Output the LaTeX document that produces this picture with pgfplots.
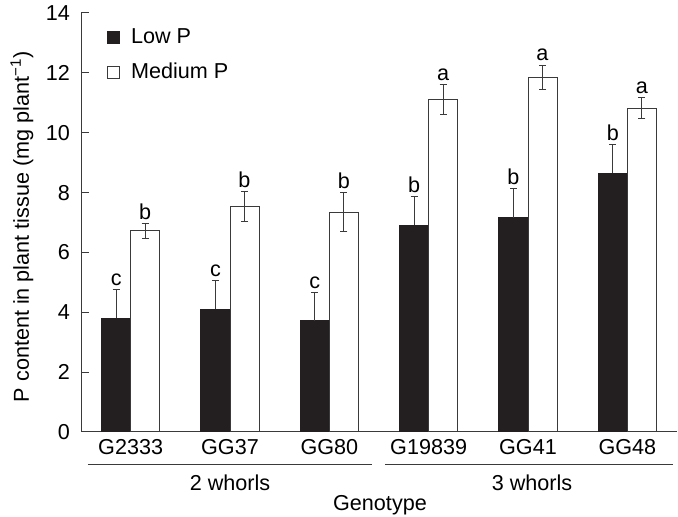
\documentclass[border=0pt]{standalone}
\usepackage{pgfplots}
\pgfplotsset{compat=1.18}
\usepackage{fontspec}
\setmainfont{Liberation Sans}
\definecolor{barblack}{HTML}{231F20}
\definecolor{linegray}{HTML}{3A3A3A}
\newcommand{\ff}{\fontsize{10.8pt}{12.5pt}\selectfont}
\begin{document}
\begin{tikzpicture}[font=\ff]
\useasboundingbox (0,0) rectangle (339pt,258.5pt);
\begin{axis}[
  at={(40.5pt,42.5pt)}, anchor=south west,
  scale only axis, width=298pt, height=209.5pt,
  xmin=0.5, xmax=6.5, ymin=0, ymax=14,
  axis x line=bottom, axis y line=left,
  axis line style={-, linegray, line width=0.5pt},
  every tick/.style={linegray, line width=0.5pt},
  tick align=inside,
  ytick={0,2,...,14},
  major tick length=4pt,
  xtick={1,2,3,4,5,6},
  xticklabels={G2333,GG37,GG80,G19839,GG41,GG48},
  xtick style={draw=none},
  minor xtick={1.5,2.5,3.5,4.5,5.5,6.5},
  minor tick length=4pt,
  minor x tick style={linegray, line width=0.5pt},
  /pgf/number format/assume math mode=true,
  ticklabel style={font=\ff},
  yticklabel style={xshift=-2pt},
  clip=false,
  legend style={draw=none, fill=none, at={(rel axis cs:0.043,0.975)}, anchor=north west,
    font=\ff, row sep=3pt, inner sep=0pt,
    nodes={inner sep=2.5pt}, /tikz/every odd column/.append style={column sep=3pt}},
  legend cell align=left,
]
\addplot[ybar, bar width=0.292, bar shift=0pt, fill=barblack, draw=barblack, line width=0.5pt,
  legend image code/.code={\draw[fill=barblack, draw=barblack, line width=0.5pt] (0pt,-3pt) rectangle (6pt,3pt);},
  error bars/.cd, y dir=plus, y explicit,
  error bar style={linegray, line width=0.5pt},
  error mark options={rotate=90, mark size=1.75pt, linegray, line width=0.5pt}]
  coordinates {
  (0.854,3.80) +- (0,0.97)
  (1.854,4.10) +- (0,0.96)
  (2.854,3.71) +- (0,0.96)
  (3.854,6.91) +- (0,0.95)
  (4.854,7.16) +- (0,0.97)
  (5.854,8.64) +- (0,0.97)
  };
\addlegendentry{Low P}
\addplot[ybar, bar width=0.292, bar shift=0pt, fill=white, draw=linegray, line width=0.5pt,
  legend image code/.code={\draw[fill=white, draw=linegray, line width=0.5pt] (0pt,-3pt) rectangle (6pt,3pt);},
  error bars/.cd, y dir=both, y explicit,
  error bar style={linegray, line width=0.5pt},
  error mark options={rotate=90, mark size=1.75pt, linegray, line width=0.5pt}]
  coordinates {
  (1.146,6.72) +- (0,0.25)
  (2.146,7.53) +- (0,0.50)
  (3.146,7.34) +- (0,0.65)
  (4.146,11.11) +- (0,0.50)
  (5.146,11.85) +- (0,0.41)
  (6.146,10.82) +- (0,0.35)
  };
\addlegendentry{Medium P}
\addplot[draw=none, mark=none, forget plot, nodes near coords, point meta=explicit symbolic,
  nodes near coords style={anchor=south, inner sep=1.8pt, font=\ff}]
  table[meta=l] {
  x y l
  0.854 4.77 c
  1.854 5.06 c
  2.854 4.67 c
  3.854 7.86 b
  4.854 8.13 b
  5.854 9.61 b
  1.146 6.97 b
  2.146 8.03 b
  3.146 7.99 b
  4.146 11.61 a
  5.146 12.26 a
  6.146 11.17 a
  };
\draw[linegray, line width=0.5pt] (axis cs:0.57,-1.10) -- (axis cs:3.43,-1.10);
\draw[linegray, line width=0.5pt] (axis cs:3.56,-1.10) -- (axis cs:6.46,-1.10);
\node at (axis cs:2.0,-1.70) {2 whorls};
\node at (axis cs:5.04,-1.70) {3 whorls};
\node at (axis cs:3.51,-2.44) {Genotype};
\node[rotate=90] at (axis description cs:-0.099,0.49) {P content in plant tissue (mg plant\textsuperscript{−1})};
\end{axis}
\end{tikzpicture}
\end{document}
